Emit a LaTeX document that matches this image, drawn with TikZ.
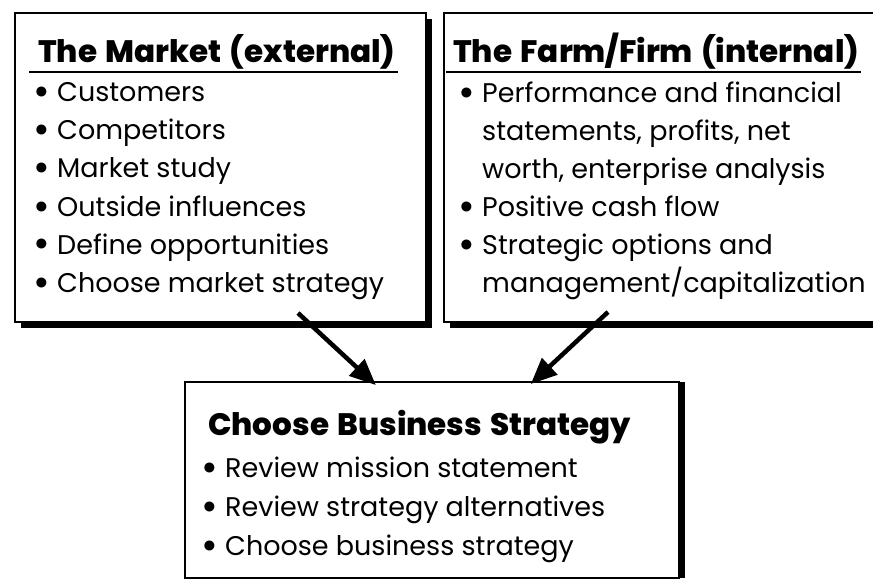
\documentclass[tikz,border=0pt]{standalone}
\usepackage{fontspec}
\setmainfont{Poppins}
\newfontfamily\headfont{Poppins}[UprightFont=* ExtraBold, WordSpace=1.4]
\usepackage{tikz}
\usetikzlibrary{arrows.meta, positioning, shadows}
\tikzset{
  panel/.style={draw, line width=1.6pt, fill=white, anchor=north west,
                inner sep=0pt,
                drop shadow={shadow xshift=6pt, shadow yshift=#1,
                             fill=black, opacity=1}},
  panel/.default=-6pt,
  head/.style={font=\fontsize{31}{32}\headfont,
               anchor=base west, inner sep=0pt},
  item/.style={font=\fontsize{27}{30}\selectfont,
               anchor=base west, inner sep=0pt},
  flow/.style={line width=4.5pt, -{Triangle[length=26pt,width=22pt]}},
  headrule/.style={line width=1.4pt}
}
\newcommand{\bul}{\makebox[20pt][l]{\hspace*{-3.5pt}\raisebox{-4pt}{\scalebox{1.5}{\textbullet}}}}

\begin{document}
\begin{tikzpicture}[x=1pt,y=-1pt]
\useasboundingbox (0,0) rectangle (873,583);

% ── Panels ────────────────────────────────────────────────────────────────
\node[panel, minimum width=411pt, minimum height=309pt] (market) at (14,12) {};
\node[panel, minimum width=432pt, minimum height=309pt] (firm) at (443,12) {};
\node[panel=0pt, minimum width=494pt, minimum height=196pt] (biz) at (184,381) {};

% ── The market ────────────────────────────────────────────────────────────
\node[head] (mktHead) at (38,63) {The Market (external)};
\draw[headrule] ([xshift=-9pt,yshift=-9pt]mktHead.base west)
             -- ([xshift=2pt,yshift=-9pt]mktHead.base east);
\foreach \t [count=\i from 0] in {Customers, Competitors, Market study,
    Outside influences, Define opportunities, Choose market strategy}
  \node[item] (mkt\i) at (37,102+\i*38) {\bul\t};

% ── The farm / firm ───────────────────────────────────────────────────────
\node[head] (firmHead) at (453,63) {The Farm/Firm (internal)};
\draw[headrule] ([xshift=-7pt,yshift=-9pt]firmHead.base west)
             -- ([xshift=2pt,yshift=-9pt]firmHead.base east);
\foreach \b/\t [count=\i from 0] in {1/Performance and financial,
    0/{statements, profits, net}, 0/{worth, enterprise analysis},
    1/Positive cash flow, 1/Strategic options and,
    0/management\slash capitalization}
  \node[item] (firm\i) at (462,103+\i*37.8)
       {\ifnum\b=1 \bul\else\hspace*{20pt}\fi\t};

% ── Business strategy ─────────────────────────────────────────────────────
\node[head] (bizHead) at (208,435) {Choose Business Strategy};
\foreach \t [count=\i from 0] in {Review mission statement,
    Review strategy alternatives, Choose business strategy}
  \node[item] (biz\i) at (205,477+\i*39) {\bul\t};

% ── Arrows ────────────────────────────────────────────────────────────────
\coordinate (mktFoot) at (298,313);
\coordinate (firmFoot) at (608,312);
\draw[flow] (mktFoot) -- ([xshift=-56pt,yshift=-4pt]biz.north);
\draw[flow] (firmFoot) -- ([xshift=99pt,yshift=-3pt]biz.north);

\end{tikzpicture}
\end{document}
